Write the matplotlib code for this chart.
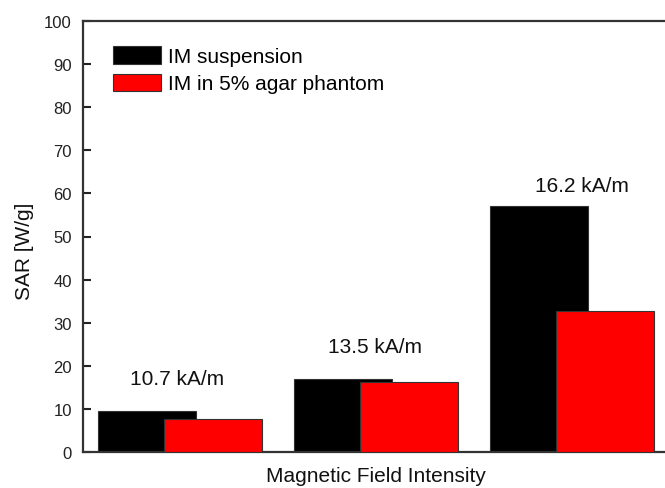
import matplotlib
matplotlib.use("Agg")
import matplotlib.pyplot as plt
import numpy as np

plt.rcParams['font.family'] = ['Liberation Sans', 'DejaVu Sans']

groups = ["10.7 kA/m", "13.5 kA/m", "16.2 kA/m"]
series_names = ["IM suspension", "IM in 5% agar phantom"]
suspension = [9.4, 16.9, 57.1]
agar = [7.6, 16.2, 32.8]
yticks = [0, 10, 20, 30, 40, 50, 60, 70, 80, 90, 100]

# layout constants
label_xy = [(0.986, 15.8), (1.994, 23.1), (3.054, 60.6)]
width = 0.5
offset = 0.167

fig = plt.figure(figsize=(6.65, 4.89), dpi=100)
ax = fig.add_axes([83/665, 36/489, 585.6/665, 431/489])

x = np.arange(1, len(groups) + 1)
edge = '#333333'
ax.bar(x - offset, suspension, width, color='black', edgecolor=edge, linewidth=0.8,
       label=series_names[0], zorder=2)
ax.bar(x + offset, agar, width, color='#ff0000', edgecolor=edge, linewidth=0.8,
       label=series_names[1], zorder=3)

for g, (tx, ty) in zip(groups, label_xy):
    ax.text(tx, ty, g, ha='center', va='baseline', fontsize=15, color='#111111')

ax.set_xlim(0.506, 3.494)
ax.set_ylim(0, 100)
ax.set_yticks(yticks)
ax.set_xticks([])
ax.tick_params(axis='y', direction='in', length=6, width=1.5, pad=8,
               labelsize=12, colors='#222222')
for s in ax.spines.values():
    s.set_linewidth(1.6)
    s.set_color('#333333')

ax.set_ylabel("SAR [W/g]", fontsize=15, color='#111111')
ax.yaxis.set_label_coords(-0.0837, 0.469)
ax.set_xlabel("Magnetic Field Intensity", fontsize=15, color='#111111', labelpad=10)

leg = ax.legend(loc='upper left', bbox_to_anchor=(0.051, 0.941), frameon=False,
                fontsize=15, handlelength=2.3, handleheight=0.9, handletextpad=0.35,
                labelspacing=0.35, borderpad=0, borderaxespad=0)

fig.savefig("out.png", dpi=100)
